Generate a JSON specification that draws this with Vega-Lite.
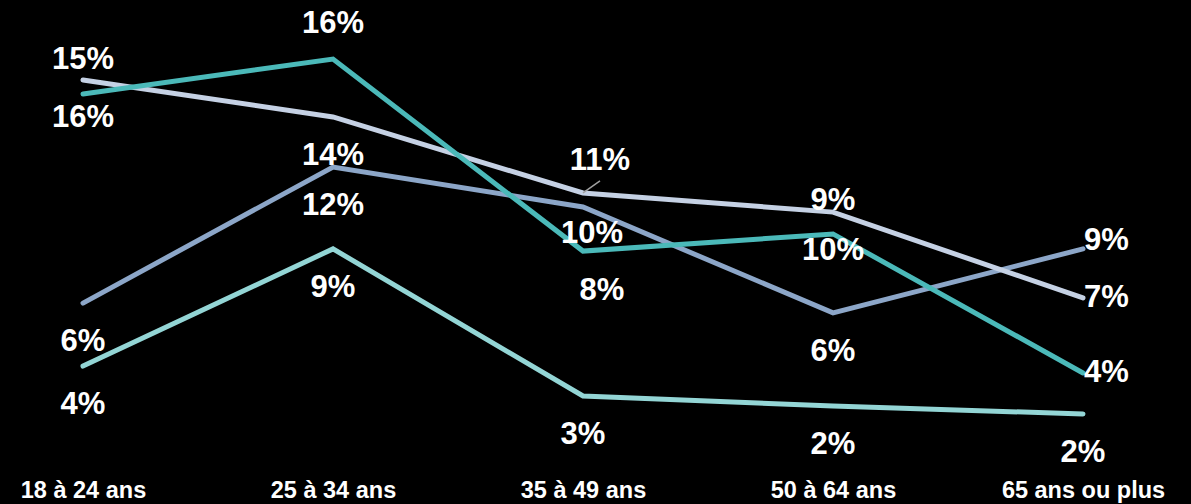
{
  "$schema": "https://vega.github.io/schema/vega-lite/v6.json",
  "width": 1000,
  "height": 461,
  "autosize": "none",
  "padding": {"left": 83, "top": 0, "right": 108, "bottom": 43},
  "background": "#000000",
  "config": {"view": {"stroke": null}},
  "data": {
    "values": [
      {"age": "18 à 24 ans", "s": "Série 1", "value": 3.87, "label": "4%"},
      {"age": "25 à 34 ans", "s": "Série 1", "value": 8.65, "label": "9%"},
      {"age": "35 à 49 ans", "s": "Série 1", "value": 2.65, "label": "3%"},
      {"age": "50 à 64 ans", "s": "Série 1", "value": 2.24, "label": "2%"},
      {"age": "65 ans ou plus", "s": "Série 1", "value": 1.92, "label": "2%"},
      {"age": "18 à 24 ans", "s": "Série 2", "value": 6.44, "label": "6%"},
      {"age": "25 à 34 ans", "s": "Série 2", "value": 11.99, "label": "12%"},
      {"age": "35 à 49 ans", "s": "Série 2", "value": 10.36, "label": "10%"},
      {"age": "50 à 64 ans", "s": "Série 2", "value": 6.04, "label": "6%"},
      {"age": "65 ans ou plus", "s": "Série 2", "value": 8.65, "label": "9%"},
      {"age": "18 à 24 ans", "s": "Série 3", "value": 15.54, "label": "15%"},
      {"age": "25 à 34 ans", "s": "Série 3", "value": 14.03, "label": "14%"},
      {"age": "35 à 49 ans", "s": "Série 3", "value": 10.93, "label": "11%"},
      {"age": "50 à 64 ans", "s": "Série 3", "value": 10.15, "label": "9%"},
      {"age": "65 ans ou plus", "s": "Série 3", "value": 6.65, "label": "7%"},
      {"age": "18 à 24 ans", "s": "Série 4", "value": 14.97, "label": "16%"},
      {"age": "25 à 34 ans", "s": "Série 4", "value": 16.39, "label": "16%"},
      {"age": "35 à 49 ans", "s": "Série 4", "value": 8.56, "label": "8%"},
      {"age": "50 à 64 ans", "s": "Série 4", "value": 9.26, "label": "10%"},
      {"age": "65 ans ou plus", "s": "Série 4", "value": 3.59, "label": "4%"}
    ]
  },
  "encoding": {
    "x": {
      "field": "age",
      "type": "ordinal",
      "sort": ["18 à 24 ans", "25 à 34 ans", "35 à 49 ans", "50 à 64 ans", "65 ans ou plus"],
      "scale": {"type": "point", "padding": 0},
      "axis": {
        "title": null,
        "domain": false,
        "ticks": false,
        "tickSize": 0,
        "grid": false,
        "labelAngle": 0,
        "labelBaseline": "middle",
        "labelPadding": 29,
        "labelFont": "Liberation Sans",
        "labelFontSize": 23.5,
        "labelFontWeight": "bold",
        "labelColor": "#ffffff"
      }
    },
    "y": {
      "field": "value",
      "type": "quantitative",
      "scale": {"domain": [0, 18.8], "nice": false, "zero": true},
      "axis": null
    }
  },
  "layer": [
    {
      "mark": {"type": "line", "strokeWidth": 5, "strokeCap": "round"},
      "encoding": {
        "color": {
          "field": "s",
          "type": "nominal",
          "scale": {
            "domain": ["Série 1", "Série 2", "Série 3", "Série 4"],
            "range": ["#93D5D5", "#8CA6C8", "#C5D1E4", "#4BB9B9"]
          },
          "legend": null
        }
      }
    },
    {
      "transform": [{"filter": "datum.s == 'Série 3' && datum.age == '35 à 49 ans'"}],
      "mark": {"type": "rule", "color": "#a0a0a0", "strokeWidth": 1.5, "x2Offset": 17, "y2Offset": -12},
      "encoding": {"x2": {"field": "age"}, "y2": {"field": "value"}}
    },
    {
      "transform": [{"filter": "datum.s == 'Série 1' || (datum.s == 'Série 2' && datum.age != '35 à 49 ans' && datum.age != '65 ans ou plus') || (datum.s == 'Série 3' && datum.age == '25 à 34 ans')"}],
      "mark": {"type": "text", "dy": 39, "fontSize": 31, "fontWeight": "bold", "font": "Liberation Sans", "color": "#ffffff", "baseline": "middle"},
      "encoding": {"text": {"field": "label"}}
    },
    {
      "transform": [{"filter": "datum.s == 'Série 3' && datum.age == '18 à 24 ans'"}],
      "mark": {"type": "text", "dy": -20, "fontSize": 31, "fontWeight": "bold", "font": "Liberation Sans", "color": "#ffffff", "baseline": "middle"},
      "encoding": {"text": {"field": "label"}}
    },
    {
      "transform": [{"filter": "datum.s == 'Série 4' && datum.age == '18 à 24 ans'"}],
      "mark": {"type": "text", "dy": 24, "fontSize": 31, "fontWeight": "bold", "font": "Liberation Sans", "color": "#ffffff", "baseline": "middle"},
      "encoding": {"text": {"field": "label"}}
    },
    {
      "transform": [{"filter": "datum.s == 'Série 4' && datum.age == '25 à 34 ans'"}],
      "mark": {"type": "text", "dy": -35, "fontSize": 31, "fontWeight": "bold", "font": "Liberation Sans", "color": "#ffffff", "baseline": "middle"},
      "encoding": {"text": {"field": "label"}}
    },
    {
      "transform": [{"filter": "datum.s == 'Série 3' && datum.age == '35 à 49 ans'"}],
      "mark": {"type": "text", "dx": 17, "dy": -32, "fontSize": 31, "fontWeight": "bold", "font": "Liberation Sans", "color": "#ffffff", "baseline": "middle"},
      "encoding": {"text": {"field": "label"}}
    },
    {
      "transform": [{"filter": "datum.s == 'Série 2' && datum.age == '35 à 49 ans'"}],
      "mark": {"type": "text", "dx": 9, "dy": 27, "fontSize": 31, "fontWeight": "bold", "font": "Liberation Sans", "color": "#ffffff", "baseline": "middle"},
      "encoding": {"text": {"field": "label"}}
    },
    {
      "transform": [{"filter": "datum.s == 'Série 4' && datum.age == '35 à 49 ans'"}],
      "mark": {"type": "text", "dx": 19, "dy": 40, "fontSize": 31, "fontWeight": "bold", "font": "Liberation Sans", "color": "#ffffff", "baseline": "middle"},
      "encoding": {"text": {"field": "label"}}
    },
    {
      "transform": [{"filter": "datum.s == 'Série 3' && datum.age == '50 à 64 ans'"}],
      "mark": {"type": "text", "dy": -11, "fontSize": 31, "fontWeight": "bold", "font": "Liberation Sans", "color": "#ffffff", "baseline": "middle"},
      "encoding": {"text": {"field": "label"}}
    },
    {
      "transform": [{"filter": "datum.s == 'Série 4' && datum.age == '50 à 64 ans'"}],
      "mark": {"type": "text", "dy": 17, "fontSize": 31, "fontWeight": "bold", "font": "Liberation Sans", "color": "#ffffff", "baseline": "middle"},
      "encoding": {"text": {"field": "label"}}
    },
    {
      "transform": [{"filter": "datum.s == 'Série 2' && datum.age == '65 ans ou plus'"}],
      "mark": {"type": "text", "dx": 1, "dy": -8, "align": "left", "fontSize": 31, "fontWeight": "bold", "font": "Liberation Sans", "color": "#ffffff", "baseline": "middle"},
      "encoding": {"text": {"field": "label"}}
    },
    {
      "transform": [{"filter": "(datum.s == 'Série 3' || datum.s == 'Série 4') && datum.age == '65 ans ou plus'"}],
      "mark": {"type": "text", "dx": 1, "dy": 0, "align": "left", "fontSize": 31, "fontWeight": "bold", "font": "Liberation Sans", "color": "#ffffff", "baseline": "middle"},
      "encoding": {"text": {"field": "label"}}
    }
  ]
}
